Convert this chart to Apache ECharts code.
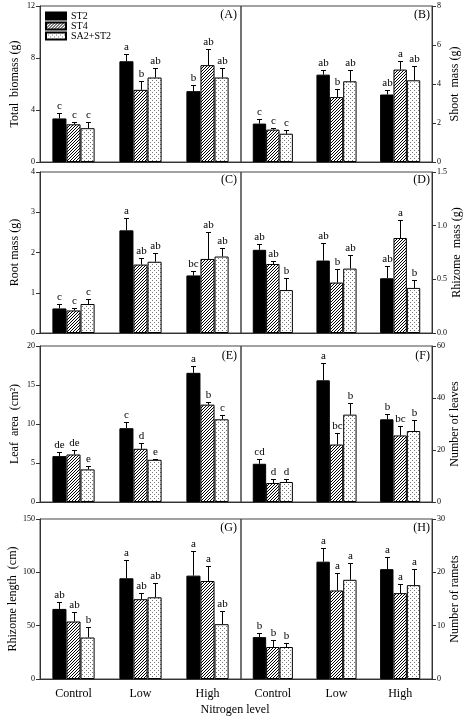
<!DOCTYPE html>
<html>
<head>
<meta charset="utf-8">
<script src="https://cdn.jsdelivr.net/npm/echarts@6/dist/echarts.min.js"></script>
<style>html,body{margin:0;padding:0;background:#fff}#c{width:470px;height:728px}</style>
</head>
<body>
<div id="c"></div>
<script>
// ---------- DATA ----------
const categories = ['Control', 'Low', 'High'];
const seriesNames = ['ST2', 'ST4', 'SA2+ST2'];

// each array: [ST2, ST4, SA2+ST2], each inner: [Control, Low, High]
const totalBiomassMean = [[3.35, 7.75, 5.45], [2.9, 5.55, 7.45], [2.6, 6.5, 6.5]];
const totalBiomassErr  = [[0.4, 0.55, 0.45], [0.2, 0.7, 1.25], [0.45, 0.75, 0.7]];
const totalBiomassSig  = [['c', 'a', 'b'], ['c', 'b', 'ab'], ['c', 'ab', 'ab']];

const shootMassMean = [[1.97, 4.48, 3.46], [1.66, 3.33, 4.74], [1.45, 4.14, 4.19]];
const shootMassErr  = [[0.25, 0.26, 0.25], [0.1, 0.43, 0.42], [0.21, 0.56, 0.75]];
const shootMassSig  = [['c', 'ab', 'ab'], ['c', 'b', 'a'], ['c', 'ab', 'ab']];

const rootMassMean = [[0.61, 2.55, 1.43], [0.56, 1.70, 1.84], [0.72, 1.77, 1.90]];
const rootMassErr  = [[0.11, 0.31, 0.11], [0.06, 0.17, 0.67], [0.13, 0.22, 0.22]];
const rootMassSig  = [['c', 'a', 'bc'], ['c', 'ab', 'ab'], ['c', 'ab', 'ab']];

const rhizomeMassMean = [[0.775, 0.675, 0.51], [0.643, 0.47, 0.885], [0.40, 0.60, 0.42]];
const rhizomeMassErr  = [[0.055, 0.165, 0.11], [0.032, 0.13, 0.165], [0.11, 0.13, 0.07]];
const rhizomeMassSig  = [['ab', 'ab', 'ab'], ['ab', 'b', 'a'], ['b', 'ab', 'b']];

const leafAreaMean = [[5.88, 9.46, 16.56], [6.09, 6.82, 12.48], [4.18, 5.41, 10.6]];
const leafAreaErr  = [[0.51, 0.74, 0.84], [0.6, 0.76, 0.32], [0.38, 0.13, 0.5]];
const leafAreaSig  = [['de', 'c', 'a'], ['de', 'd', 'b'], ['e', 'e', 'c']];

const leavesMean = [[14.7, 46.8, 31.8], [7.3, 22.1, 25.6], [7.7, 33.6, 27.3]];
const leavesErr  = [[2.0, 6.7, 1.9], [1.7, 4.6, 3.6], [1.0, 4.5, 4.4]];
const leavesSig  = [['cd', 'a', 'b'], ['d', 'bc', 'bc'], ['d', 'b', 'b']];

const rhizomeLengthMean = [[65.7, 94.4, 96.9], [53.9, 74.8, 91.9], [38.9, 76.6, 51.4]];
const rhizomeLengthErr  = [[6.9, 17.6, 23.3], [9.3, 5.6, 14.3], [9.4, 13.1, 12.5]];
const rhizomeLengthSig  = [['ab', 'a', 'a'], ['ab', 'ab', 'a'], ['b', 'ab', 'ab']];

const rametsMean = [[7.85, 22.0, 20.6], [6.0, 16.6, 16.1], [6.0, 18.6, 17.6]];
const rametsErr  = [[0.75, 2.6, 2.2], [1.35, 3.2, 1.8], [0.7, 3.2, 3.1]];
const rametsSig  = [['b', 'a', 'a'], ['b', 'a', 'a'], ['b', 'a', 'a']];

const panelNames = ['Total  biomass (g)', 'Shoot  mass (g)', 'Root mass (g)', 'Rhizome  mass (g)',
  'Leaf  area  (cm\u00B2)', 'Number of leaves', 'Rhizome length  (cm)', 'Number of ramets'];
const panelTags = ['(A)', '(B)', '(C)', '(D)', '(E)', '(F)', '(G)', '(H)'];
const axisMax = [12, 8, 4, 1.5, 20, 60, 150, 30];
const axisStep = [4, 2, 1, 0.5, 5, 20, 50, 10];
const xTitle = 'Nitrogen level';

const panelData = [
  [totalBiomassMean, totalBiomassErr, totalBiomassSig],
  [shootMassMean, shootMassErr, shootMassSig],
  [rootMassMean, rootMassErr, rootMassSig],
  [rhizomeMassMean, rhizomeMassErr, rhizomeMassSig],
  [leafAreaMean, leafAreaErr, leafAreaSig],
  [leavesMean, leavesErr, leavesSig],
  [rhizomeLengthMean, rhizomeLengthErr, rhizomeLengthSig],
  [rametsMean, rametsErr, rametsSig]
];

// ---------- LAYOUT / STYLE ----------
const FONT = '"Liberation Serif", "Times New Roman", serif';
const rowTop = [6, 172, 346, 519];
const rowH = [156, 161, 156, 160];
const colLeft = [40, 241];
const colW = [201, 191];
const tagTop = [9, 174, 350, 522];
const CAT_GAP = 0.37;

function makePattern(kind) {
  const cv = document.createElement('canvas');
  const n = kind === 'hatch' ? 3 : 4;
  cv.width = n; cv.height = n;
  const ctx = cv.getContext('2d');
  const img = ctx.createImageData(n, n);
  for (let y = 0; y < n; y++) for (let x = 0; x < n; x++) {
    let v = 255;
    if (kind === 'hatch') { if ((x + y) % 3 === 2) v = 0; }
    else { if ((x === 0 && y === 0) || (x === 2 && y === 2)) v = 120; }
    const i = (y * n + x) * 4;
    img.data[i] = img.data[i + 1] = img.data[i + 2] = v; img.data[i + 3] = 255;
  }
  ctx.putImageData(img, 0, 0);
  return { image: cv, repeat: 'repeat' };
}
const fills = ['#000', makePattern('hatch'), makePattern('dots')];

const grids = [], xAxes = [], yAxes = [], series = [], titles = [];
panelData.forEach((pd, p) => {
  const row = Math.floor(p / 2), col = p % 2;
  grids.push({ left: colLeft[col], top: rowTop[row], width: colW[col], height: rowH[row],
    show: true, borderColor: '#444', borderWidth: 1, containLabel: false });
  xAxes.push({ type: 'category', gridIndex: p, data: categories,
    axisLine: { lineStyle: { color: '#333' } }, axisTick: { show: false },
    axisLabel: { show: row === 3, fontFamily: FONT, fontSize: 12, color: '#000', margin: 9 } });
  yAxes.push({ type: 'value', gridIndex: p, min: 0, max: axisMax[p], interval: axisStep[p],
    position: col === 0 ? 'left' : 'right',
    name: panelNames[p], nameLocation: 'middle', nameRotate: 90, nameGap: col === 0 ? 19 : 17,
    nameTextStyle: { fontFamily: FONT, fontSize: 12, color: '#000' },
    axisLine: { show: true, lineStyle: { color: '#333' } },
    axisTick: { show: true, length: 4, lineStyle: { color: '#333' } },
    splitLine: { show: false },
    axisLabel: { fontFamily: FONT, fontSize: 8, color: '#000', margin: 5,
      formatter: axisStep[p] < 1 ? (v => v.toFixed(1)) : (v => String(v)) } });
  titles.push({ text: panelTags[p], top: tagTop[row], padding: 0,
    right: col === 0 ? 470 - 237 : 470 - 430,
    textStyle: { fontFamily: FONT, fontSize: 12, fontWeight: 'normal', color: '#000' } });

  const [mean, err, sig] = pd;
  seriesNames.forEach((nm, si) => {
    series.push({ type: 'bar', name: nm, xAxisIndex: p, yAxisIndex: p,
      data: mean[si], barGap: '0%', barCategoryGap: (CAT_GAP * 100) + '%',
      itemStyle: { color: fills[si], borderColor: '#000', borderWidth: 1 },
      emphasis: { disabled: true }, silent: true });
  });
  seriesNames.forEach((nm, si) => {
    series.push({ type: 'custom', xAxisIndex: p, yAxisIndex: p, silent: true, z: 5,
      data: categories.map((c, ci) => [ci, mean[si][ci], err[si][ci]]),
      renderItem: function (params, api) {
        const ci = api.value(0), m = api.value(1), e = api.value(2);
        const band = api.size([1, 0])[0];
        const groupW = band * (1 - CAT_GAP);
        const bw = groupW / 3;
        const c0 = api.coord([ci, m]);
        const c1 = api.coord([ci, m + e]);
        const x = Math.round(c0[0] - groupW / 2 + bw * (si + 0.5)) + 0.5;
        const yt = Math.round(c1[1]) + 0.5;
        return { type: 'group', children: [
          { type: 'line', shape: { x1: x, y1: c0[1], x2: x, y2: yt }, style: { stroke: '#000', lineWidth: 1 } },
          { type: 'line', shape: { x1: x - 2.5, y1: yt, x2: x + 2.5, y2: yt }, style: { stroke: '#000', lineWidth: 1 } },
          { type: 'text', x: x, y: yt - 2, style: { text: sig[si][ci], align: 'center', verticalAlign: 'bottom',
            font: '11px ' + FONT, fill: '#000' } }
        ] };
      } });
  });
});
titles.push({ text: xTitle, left: 'center', top: 704, padding: 0,
  textStyle: { fontFamily: FONT, fontSize: 12, fontWeight: 'normal', color: '#000' } });

const chart = echarts.init(document.getElementById('c'), null, { renderer: 'canvas' });
chart.setOption({
  animation: false,
  backgroundColor: '#fff',
  title: titles,
  legend: { data: seriesNames, orient: 'vertical', left: 45, top: 11, padding: 0,
    itemWidth: 20, itemHeight: 7, itemGap: 0, icon: 'rect',
    textStyle: { fontFamily: FONT, fontSize: 10, color: '#000', lineHeight: 9 } },
  grid: grids, xAxis: xAxes, yAxis: yAxes, series: series
});
</script>
</body>
</html>
